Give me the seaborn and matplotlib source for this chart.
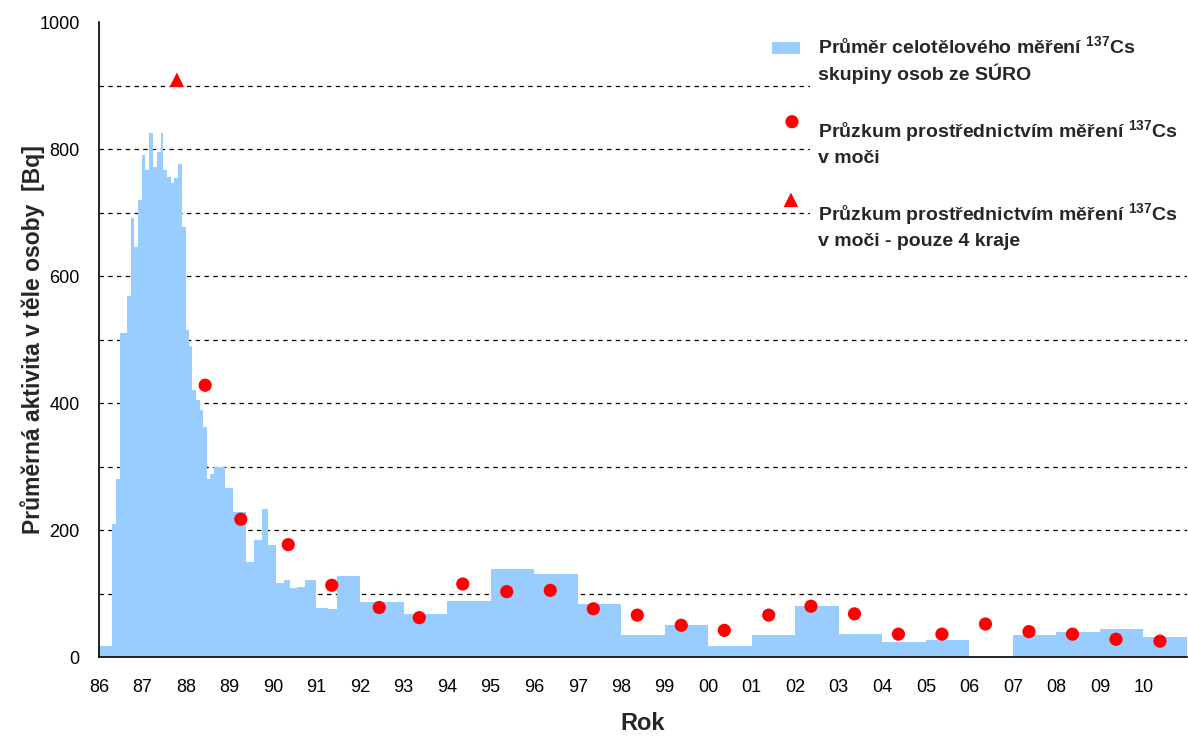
import numpy as np
import pandas as pd
import matplotlib
matplotlib.use("Agg")
import matplotlib.pyplot as plt
import seaborn as sns
from matplotlib.patches import Rectangle

# prumer celotelove mereni - hranice obdobi (rok) a hodnoty [Bq]
step_edges = [1986.00, 1986.31, 1986.40, 1986.48, 1986.64, 1986.73, 1986.81, 1986.90,
              1986.98, 1987.06, 1987.16, 1987.25, 1987.34, 1987.42, 1987.47, 1987.56,
              1987.66, 1987.73, 1987.82, 1987.90, 1987.99, 1988.07, 1988.14, 1988.23,
              1988.32, 1988.40, 1988.48, 1988.55, 1988.64, 1988.90, 1989.07, 1989.38,
              1989.56, 1989.74, 1989.89, 1990.07, 1990.25, 1990.39, 1990.56, 1990.74,
              1990.99, 1991.26, 1991.48, 1992, 1993, 1994, 1995, 1996, 1997, 1998,
              1999, 2000, 2001, 2002, 2003, 2004, 2005, 2006, 2007, 2008, 2009, 2010, 2011]
step_values = [18, 210, 280, 511, 569, 692, 645, 720, 791, 767, 825, 772, 796, 826,
               767, 756, 746, 755, 776, 677, 515, 490, 420, 405, 389, 363, 280, 289,
               300, 266, 229, 150, 185, 233, 176, 116, 121, 108, 110, 121, 77, 75, 128,
               87, 67, 89, 138, 130, 83, 34, 50, 18, 34, 81, 36, 23, 27, 0, 34, 40, 44, 32]

# pruzkum v moci
urine_years = [1988.44, 1989.26, 1990.35, 1991.35, 1992.44, 1993.36, 1994.36, 1995.37,
               1996.37, 1997.36, 1998.37, 1999.38, 2000.37, 2001.39, 2002.36, 2003.36,
               2004.37, 2005.37, 2006.37, 2007.37, 2008.37, 2009.37, 2010.38]
urine_values = [428, 217, 177, 113, 78, 62, 115, 103, 105, 76, 66, 50, 42, 66, 80, 68,
                36, 36, 52, 40, 36, 28, 25]

# pruzkum v moci - pouze 4 kraje
urine4_years = [1987.79]
urine4_values = [909]

year_ticks = list(range(1986, 2012))
year_labels = ["%02d" % (y % 100) for y in range(1986, 2011)] + [""]
y_ticks = list(range(0, 1001, 100))
y_labels = [str(v) if v % 200 == 0 else "" for v in y_ticks]
grid_levels = list(range(100, 1000, 100))

legend_labels = ["Průměr celotělového měření $^{\\mathbf{137}}$Cs\nskupiny osob ze SÚRO",
                 "Průzkum prostřednictvím měření $^{\\mathbf{137}}$Cs\nv moči",
                 "Průzkum prostřednictvím měření $^{\\mathbf{137}}$Cs\nv moči - pouze 4 kraje"]

sns.set_style("white")
plt.rcParams["font.family"] = ["Liberation Sans", "DejaVu Sans"]
plt.rcParams["mathtext.fontset"] = "custom"
plt.rcParams["mathtext.rm"] = "Liberation Sans"
plt.rcParams["mathtext.bf"] = "Liberation Sans:bold"

blue = "#99CCFF"

mids = [(a + b) / 2 for a, b in zip(step_edges[:-1], step_edges[1:])]
df_steps = pd.DataFrame({"rok": mids, "bq": step_values})

fig = plt.figure(figsize=(11.88, 7.36), dpi=100)
ax = fig.add_axes([0.0833, 0.1073, 0.9158, 0.8628])

for lvl in grid_levels:
    ax.axhline(lvl, color="black", lw=0.9, ls=(0, (3.5, 3.5)), zorder=1)

sns.histplot(data=df_steps, x="rok", weights="bq", bins=step_edges, element="step",
             fill=True, color=blue, alpha=1, linewidth=0, ax=ax, zorder=2)

sns.scatterplot(x=urine_years, y=urine_values, color="red", marker="o", s=90,
                edgecolor="none", ax=ax, zorder=5, legend=False)
sns.scatterplot(x=urine4_years, y=urine4_values, color="red", marker="^", s=110,
                edgecolor="none", ax=ax, zorder=5, legend=False)

ax.set_xlim(1986, 2011)
ax.set_ylim(0, 1000)
ax.set_xticks(year_ticks)
ax.set_xticklabels(year_labels)
ax.set_yticks(y_ticks)
ax.set_yticklabels(y_labels)
ax.tick_params(axis="both", direction="out", length=6, width=1, color="black",
               labelsize=13, labelcolor="black")
ax.tick_params(axis="x", pad=10)
ax.tick_params(axis="y", pad=8)

sns.despine(ax=ax)
for s in ["left", "bottom"]:
    ax.spines[s].set_color("black")
    ax.spines[s].set_linewidth(1.2)

ax.set_xlabel("Rok", fontsize=17, fontweight="bold", labelpad=11)
ax.set_ylabel("Průměrná aktivita v těle osoby  [Bq]", fontsize=16.5, fontweight="bold")
ax.yaxis.set_label_coords(-0.05, 0.5)

# legenda
ax.add_patch(Rectangle((0.6535, 0.622), 0.35, 0.37, transform=ax.transAxes,
                       facecolor="white", edgecolor="none", zorder=3))
ax.add_patch(Rectangle((0.619, 0.949), 0.025, 0.019, transform=ax.transAxes,
                       facecolor=blue, edgecolor="none", zorder=4, clip_on=False))
ax.scatter([0.637], [0.843], transform=ax.transAxes, color="red", marker="o", s=90,
           edgecolor="none", zorder=4)
ax.scatter([0.636], [0.720], transform=ax.transAxes, color="red", marker="^", s=110,
           edgecolor="none", zorder=4)
for lab, yy in zip(legend_labels, [0.941, 0.810, 0.679]):
    ax.text(0.661, yy, lab, transform=ax.transAxes, fontsize=14, fontweight="bold",
            va="center", ha="left", linespacing=1.35, zorder=4)

fig.savefig("out.png", dpi=100)
